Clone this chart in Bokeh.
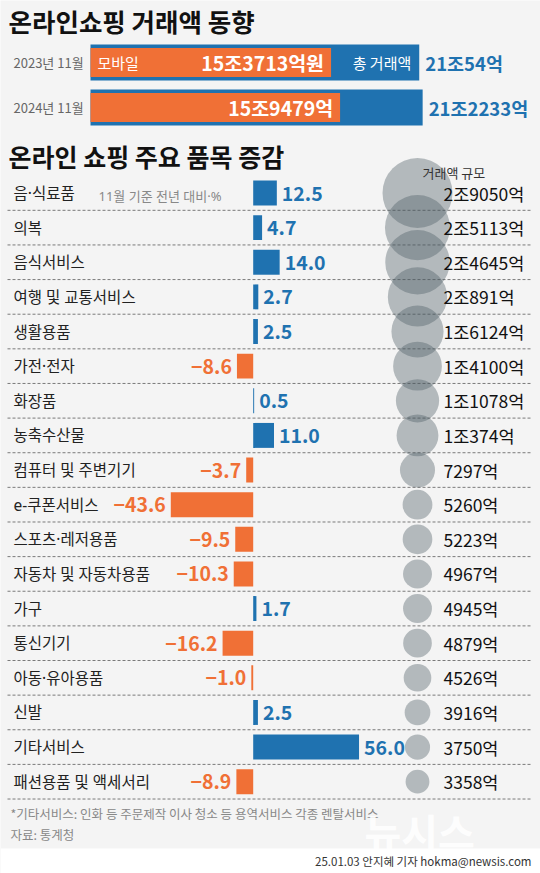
import math
from bokeh.plotting import figure
from bokeh.models import Range1d, ColumnDataSource
from bokeh.core.properties import value
from bokeh.embed import file_html
from bokeh.resources import INLINE

# ---------------- data ----------------
years = ["2023년 11월", "2024년 11월"]
mobile = [153713, 159479]          # 억원
total = [210054, 212233]           # 억원
mobile_labels = ["15조3713억원", "15조9479억"]
total_labels = ["21조54억", "21조2233억"]

categories = ["음·식료품", "의복", "음식서비스", "여행 및 교통서비스", "생활용품",
              "가전·전자", "화장품", "농축수산물", "컴퓨터 및 주변기기", "e-쿠폰서비스",
              "스포츠·레저용품", "자동차 및 자동차용품", "가구", "통신기기",
              "아동·유아용품", "신발", "기타서비스", "패션용품 및 액세서리"]
change = [12.5, 4.7, 14.0, 2.7, 2.5, -8.6, 0.5, 11.0, -3.7, -43.6,
          -9.5, -10.3, 1.7, -16.2, -1.0, 2.5, 56.0, -8.9]
amount = [29050, 25113, 24645, 20891, 16124, 14100, 11078, 10374, 7297, 5260,
          5223, 4967, 4945, 4879, 4526, 3916, 3750, 3358]
amount_labels = ["2조9050억", "2조5113억", "2조4645억", "2조891억", "1조6124억",
                 "1조4100억", "1조1078억", "1조374억", "7297억", "5260억",
                 "5223억", "4967억", "4945억", "4879억", "4526억", "3916억",
                 "3750억", "3358억"]

# ---------------- style ----------------
BLUE = "#1f72b0"
ORANGE = "#f07036"
BG = "#f4f4f4"
KR = "Noto Sans CJK KR"
MIX = "Noto Sans, Noto Sans CJK KR"

W, H = 540, 873
X0, Y0 = 0, 0

p = figure(width=W, height=H, output_backend="svg", toolbar_location=None,
           x_range=Range1d(X0, X0 + W), y_range=Range1d(Y0 + H, Y0),
           x_axis_location=None, y_axis_location=None, min_border=0,
           background_fill_color=BG, border_fill_color=BG)
p.outline_line_color = None
p.grid.visible = False

# scales for the data
K_AMT = 0.001565        # px per 억
AMT_ZERO = 90
p.extra_x_ranges["amt"] = Range1d((X0 - AMT_ZERO) / K_AMT, (X0 + W - AMT_ZERO) / K_AMT)
TOP_C, TOP_S = 62, 45
p.extra_y_ranges["top"] = Range1d((Y0 + H - TOP_C) / TOP_S, (Y0 - TOP_C) / TOP_S)
K_PCT = 1.89
PCT_ZERO = 252.7
p.extra_x_ranges["pct"] = Range1d((X0 - PCT_ZERO) / K_PCT, (X0 + W - PCT_ZERO) / K_PCT)
ROW_C, ROW_S = 192.5, 34.63
p.extra_y_ranges["rows"] = Range1d((Y0 + H - ROW_C) / ROW_S, (Y0 - ROW_C) / ROW_S)

# white footer band
p.quad(left=X0, right=X0 + W, top=848, bottom=Y0 + H, fill_color="white", line_color=None)

# ---------------- titles ----------------
p.text(x=[8], y=[20], text=["온라인쇼핑 거래액 동향"], text_font=value(KR),
       text_font_style="bold", text_font_size="25.5px", text_color="#111",
       text_baseline="middle", text_align="left")
p.text(x=[8], y=[155], text=["온라인 쇼핑 주요 품목 증감"], text_font=value(KR),
       text_font_style="bold", text_font_size="25px", text_color="#111",
       text_baseline="middle", text_align="left")

# ---------------- top bars ----------------
tsrc = ColumnDataSource(dict(j=list(range(len(years))), year=years, mobile=mobile,
                             total=total, ml=mobile_labels, tl=total_labels))
p.hbar(y="j", left=0, right="total", height=0.8, source=tsrc, fill_color=BLUE,
       line_color=None, x_range_name="amt", y_range_name="top")
p.hbar(y="j", left=0, right="mobile", height=0.64, source=tsrc, fill_color=ORANGE,
       line_color=None, x_range_name="amt", y_range_name="top")
p.text(x=13, y="j", text="year", source=tsrc, text_font=value(KR), text_font_size="13px",
       text_color="#666", text_baseline="middle", text_align="left", y_range_name="top")
p.text(x="mobile", y="j", text="ml", source=tsrc, x_offset=-7, text_font=value(KR),
       text_font_style="bold", text_font_size="19.5px", text_color="white",
       text_baseline="middle", text_align="right", x_range_name="amt", y_range_name="top")
p.text(x="total", y="j", text="tl", source=tsrc, x_offset=6, text_font=value(KR),
       text_font_style="bold", text_font_size="18.5px", text_color=BLUE,
       text_baseline="middle", text_align="left", x_range_name="amt", y_range_name="top")
# inner labels on 2023 bar
p.text(x=[0], y=[0], text=["모바일"], x_offset=7, text_font=value(KR), text_font_size="15px",
       text_color="white", text_baseline="middle", text_align="left",
       x_range_name="amt", y_range_name="top")
p.text(x=[total[0]], y=[0], text=["총 거래액"], x_offset=-8, text_font=value(KR),
       text_font_size="15px", text_color="white", text_baseline="middle", text_align="right",
       x_range_name="amt", y_range_name="top")

# ---------------- category chart ----------------
n = len(categories)
idx = list(range(n))
radius = [35 * math.sqrt(a / amount[0]) for a in amount]
src = ColumnDataSource(dict(idx=idx, cat=categories, chg=change, amt=amount,
                            al=amount_labels, r=radius,
                            sep=[i + 0.5 for i in idx],
                            color=[BLUE if c >= 0 else ORANGE for c in change]))

# separators
p.segment(x0=7, x1=530, y0="sep", y1="sep", source=src, line_color="#7a7a7a",
          line_dash="3 2", line_width=1, y_range_name="rows")

# bubbles
p.circle(x=417, y="idx", radius="r", source=src, fill_color="#4b5c64", fill_alpha=0.385,
         line_color=None, y_range_name="rows")

# bars
p.hbar(y="idx", left=0, right="chg", height=0.72, source=src, fill_color="color",
       line_color=None, x_range_name="pct", y_range_name="rows")

# category labels
p.text(x=13, y="idx", text="cat", source=src, text_font=value(MIX), text_font_size="15.5px",
       text_color="#222", text_baseline="middle", text_align="left", y_range_name="rows")

# value labels
def fmt(v):
    s = f"{abs(v):.1f}"
    return ("−" + s) if v < 0 else s

pos = [i for i in idx if change[i] >= 0]
neg = [i for i in idx if change[i] < 0]
psrc = ColumnDataSource(dict(y=pos, x=[change[i] for i in pos], t=[fmt(change[i]) for i in pos]))
nsrc = ColumnDataSource(dict(y=neg, x=[change[i] for i in neg], t=[fmt(change[i]) for i in neg]))
p.text(x="x", y="y", text="t", source=psrc, x_offset=5, text_font=value(KR),
       text_font_style="bold", text_font_size="19.5px", text_color=BLUE,
       text_baseline="middle", text_align="left", x_range_name="pct", y_range_name="rows")
p.text(x="x", y="y", text="t", source=nsrc, x_offset=-5, text_font=value(KR),
       text_font_style="bold", text_font_size="19.5px", text_color=ORANGE,
       text_baseline="middle", text_align="right", x_range_name="pct", y_range_name="rows")

# amount labels
p.text(x=443, y="idx", text="al", source=src, text_font=value(KR), text_font_size="17.5px",
       text_color="#111", text_baseline="middle", text_align="left", y_range_name="rows")

# headers
p.text(x=[98], y=[0], text=["11월 기준 전년 대비·%"], y_offset=3, text_font=value(MIX),
       text_font_size="13px", text_color="#888", text_baseline="middle", text_align="left",
       y_range_name="rows")
p.text(x=[422], y=[172], text=["거래액 규모"], text_font=value(KR), text_font_size="13px",
       text_color="#333", text_baseline="middle", text_align="left")

# ---------------- footer ----------------
p.text(x=[10], y=[813], text=["*기타서비스: 인화 등 주문제작 이사 청소 등 용역서비스 각종 렌탈서비스"],
       text_font=value(KR), text_font_size="12.5px", text_color="#888",
       text_baseline="middle", text_align="left")
p.text(x=[10], y=[834], text=["자료: 통계청"], text_font=value(KR), text_font_size="12.5px",
       text_color="#888", text_baseline="middle", text_align="left")
p.text(x=[364], y=[830], text=["뉴시스"], text_font=value(KR), text_font_style="bold",
       text_font_size="40px", text_color="white", text_alpha=0.9,
       text_baseline="middle", text_align="left")
p.text(x=[531], y=[860], text=["25.01.03 안지혜 기자 hokma@newsis.com"], text_font=value(KR),
       text_font_size="11.5px", text_color="#333", text_baseline="middle", text_align="right")

open("out.html", "w").write(file_html(p, INLINE))
